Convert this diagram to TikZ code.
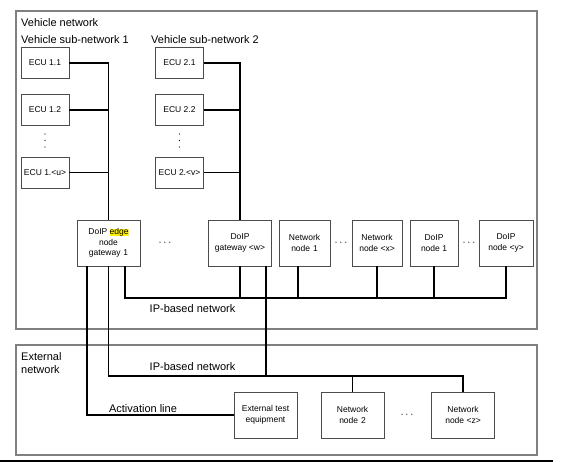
\documentclass[tikz,border=0pt]{standalone}
\usepackage{fontspec}
\setmainfont{Liberation Sans}
\usepackage{xcolor}
\usepackage{tikz}

\begin{document}
\begin{tikzpicture}[x=1pt, y=-1pt, text=black,
		unit/.style={draw=black!70, line width=0.8pt, fill=white, align=center, inner sep=0pt, font=\fontsize{8.5}{10.5}\selectfont},
		ecu/.style={unit, minimum width=48, minimum height=31},
		gw/.style={unit, minimum width=63, minimum height=46},
		bus/.style={line width=1.4pt},
		area/.style={draw=black!50, line width=1.2pt},
		lbl/.style={inner sep=0pt, font=\fontsize{11}{13}\selectfont}]
	\useasboundingbox (0,0) rectangle (571,462);
	% network areas
	\draw[area] (16,11) rectangle (537,329);
	\draw[area] (16,345) rectangle (537,455);
	\node[lbl, anchor=west] (vn) at (21,22.5) {Vehicle network};
	\node[lbl, anchor=west] (sub1) at (21,39.5) {Vehicle sub-network 1};
	\node[lbl, anchor=west] (sub2) at (151,39.5) {Vehicle sub-network 2};
	\node[lbl, anchor=north west, align=left] (en) at (21,352) {External\\network};
	% ECUs
	\node[ecu] (e11) at (45,63) {ECU 1.1};
	\node[ecu] (e12) at (45,110) {ECU 1.2};
	\node[ecu] (e1u) at (45,172.5) {ECU 1.<u>};
	\node[ecu] (e21) at (179.5,63) {ECU 2.1};
	\node[ecu] (e22) at (179.5,110) {ECU 2.2};
	\node[ecu] (e2v) at (179.5,172.5) {ECU 2.<v>};
	\foreach \x in {45, 179.5}
		\foreach \y in {134, 140.5, 147}
			\fill (\x,\y) circle (0.6pt);
	% gateways and nodes
	\node[gw] (gw1) at (108.5,243) {DoIP {\fboxsep=0pt\colorbox{yellow}{edge}}\\node\\gateway\,\,1};
	\node[gw] (gww) at (240,243) {DoIP\\gateway <w>};
	\node[unit, minimum width=51, minimum height=46] (nn1) at (304.5,243) {Network\\node\,\,1};
	\node[unit, minimum width=50, minimum height=46] (nnx) at (377,243) {Network\\node <x>};
	\node[unit, minimum width=48, minimum height=46] (dn1) at (434,243) {DoIP\\node 1};
	\node[unit, minimum width=54, minimum height=46] (dny) at (506,243) {DoIP\\node <y>};
	\node[lbl] (hd1) at (165,243) {$\cdots$};
	\node[lbl] (hd2) at (341,243) {$\cdots$};
	\node[lbl] (hd3) at (469,243) {$\cdots$};
	% external side
	\node[gw] (ext) at (265.5,415) {External test\\equipment};
	\node[gw] (nn2) at (352.5,415) {Network\\node\,\,2};
	\node[gw] (nnz) at (463,415) {Network\\node <z>};
	\node[lbl] (hd4) at (407,415) {$\cdots$};
	% sub-network buses
	\draw[bus] (e11.east) -| (gw1.north);
	\draw[bus] (e12.east) -- (e12.east -| gw1.north);
	\draw[bus] (e1u.east) -- (e1u.east -| gw1.north);
	\draw[bus] (e21.east) -| (gww.north);
	\draw[bus] (e22.east) -- (e22.east -| gww.north);
	\draw[bus] (e2v.east) -- (e2v.east -| gww.north);
	% IP-based network in the vehicle
	\coordinate (vbus) at (0,298);
	\coordinate (g1v) at ([xshift=16.5pt]gw1.south);
	\coordinate (n1v) at ([xshift=-6.5pt]nn1.south);
	\draw[bus] (g1v) |- (vbus -| dny.south) -- (dny.south);
	\foreach \n in {gww, nnx, dn1}
		\draw[bus] (\n.south) -- (\n.south |- vbus);
	\draw[bus] (n1v) -- (n1v |- vbus);
	\node[lbl] (ipv) at (192.5,309) {IP-based network};
	% IP-based network outside
	\coordinate (xbus) at (0,376);
	\coordinate (gwx) at ([xshift=26pt]gww.south);
	\draw[bus] (gw1.south) |- (xbus -| nnz.north) -- (nnz.north);
	\draw[bus] (gwx) -- (gwx |- xbus);
	\draw[bus] (nn2.north) -- (nn2.north |- xbus);
	\node[lbl] (ipx) at (192.5,366.5) {IP-based network};
	% activation line
	\coordinate (g1a) at ([xshift=-21.5pt]gw1.south);
	\draw[bus] (g1a) |- (ext.west);
	\node[lbl] (act) at (143,409) {Activation line};
	% page rule
	\coordinate (r0) at (0,461);
	\coordinate (r1) at (553,461);
	\draw[bus] (r0) -- (r1);
\end{tikzpicture}
\end{document}
